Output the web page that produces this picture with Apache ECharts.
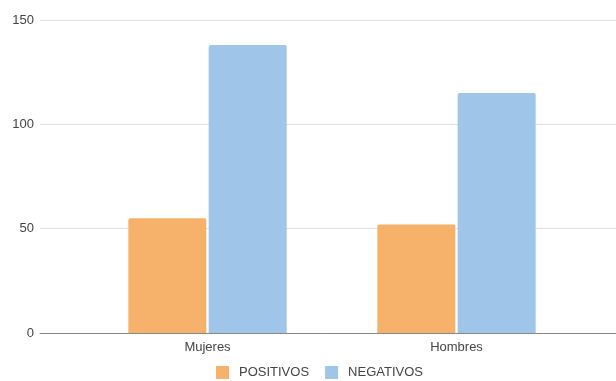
<!DOCTYPE html>
<html>
<head>
<meta charset="utf-8">
<script src="https://cdn.jsdelivr.net/npm/echarts@6/dist/echarts.min.js"></script>
<style>
  html, body { margin: 0; padding: 0; background: #fff; }
  #chart { width: 616px; height: 381px; }
</style>
</head>
<body>
<div id="chart"></div>
<script>
// Test results by sex
const categories = ['Mujeres', 'Hombres'];
const positivos = [55, 52];
const negativos = [138, 115];
const yTicks = [0, 50, 100, 150];

const chart = echarts.init(document.getElementById('chart'));
const font = 'Liberation Sans, Arial, sans-serif';

chart.setOption({
  animation: false,
  textStyle: { fontFamily: font },
  legend: {
    data: ['POSITIVOS', 'NEGATIVOS'],
    left: 216,
    top: 366,
    padding: 0,
    icon: 'rect',
    itemWidth: 13,
    itemHeight: 13,
    itemGap: 16,
    textStyle: { fontSize: 13, color: '#444', fontFamily: font, padding: [0, 0, 0, 5] }
  },
  grid: [
    // full-width frame: gridlines, y labels, baseline
    { left: 40, right: 0, top: 20, bottom: 48 },
    // bar area
    { left: 83, right: 35, top: 20, bottom: 48 }
  ],
  xAxis: [
    {
      gridIndex: 0, type: 'category', data: [''],
      axisLine: { show: true, lineStyle: { color: '#888', width: 1 } },
      axisTick: { show: false }, axisLabel: { show: false }
    },
    {
      gridIndex: 1, type: 'category', data: categories,
      axisLine: { show: false }, axisTick: { show: false },
      axisLabel: { color: '#444', fontSize: 13, margin: 8, fontFamily: font }
    }
  ],
  yAxis: [
    {
      gridIndex: 0, type: 'value', min: yTicks[0], max: yTicks[yTicks.length - 1], interval: 50,
      axisLine: { show: false }, axisTick: { show: false },
      axisLabel: { color: '#444', fontSize: 13, margin: 6, fontFamily: font },
      splitLine: { lineStyle: { color: '#e0e0e0', width: 1 } }
    },
    {
      gridIndex: 1, type: 'value', min: yTicks[0], max: yTicks[yTicks.length - 1], interval: 50,
      show: false, splitLine: { show: false }
    }
  ],
  series: [
    {
      name: 'POSITIVOS', type: 'bar', xAxisIndex: 1, yAxisIndex: 1,
      data: positivos, barWidth: 78, barGap: '3%',
      itemStyle: { color: '#f6b26b', borderRadius: [2, 2, 0, 0] }
    },
    {
      name: 'NEGATIVOS', type: 'bar', xAxisIndex: 1, yAxisIndex: 1,
      data: negativos, barWidth: 78, barGap: '3%',
      itemStyle: { color: '#9fc5e8', borderRadius: [2, 2, 0, 0] }
    }
  ]
});
</script>
</body>
</html>
